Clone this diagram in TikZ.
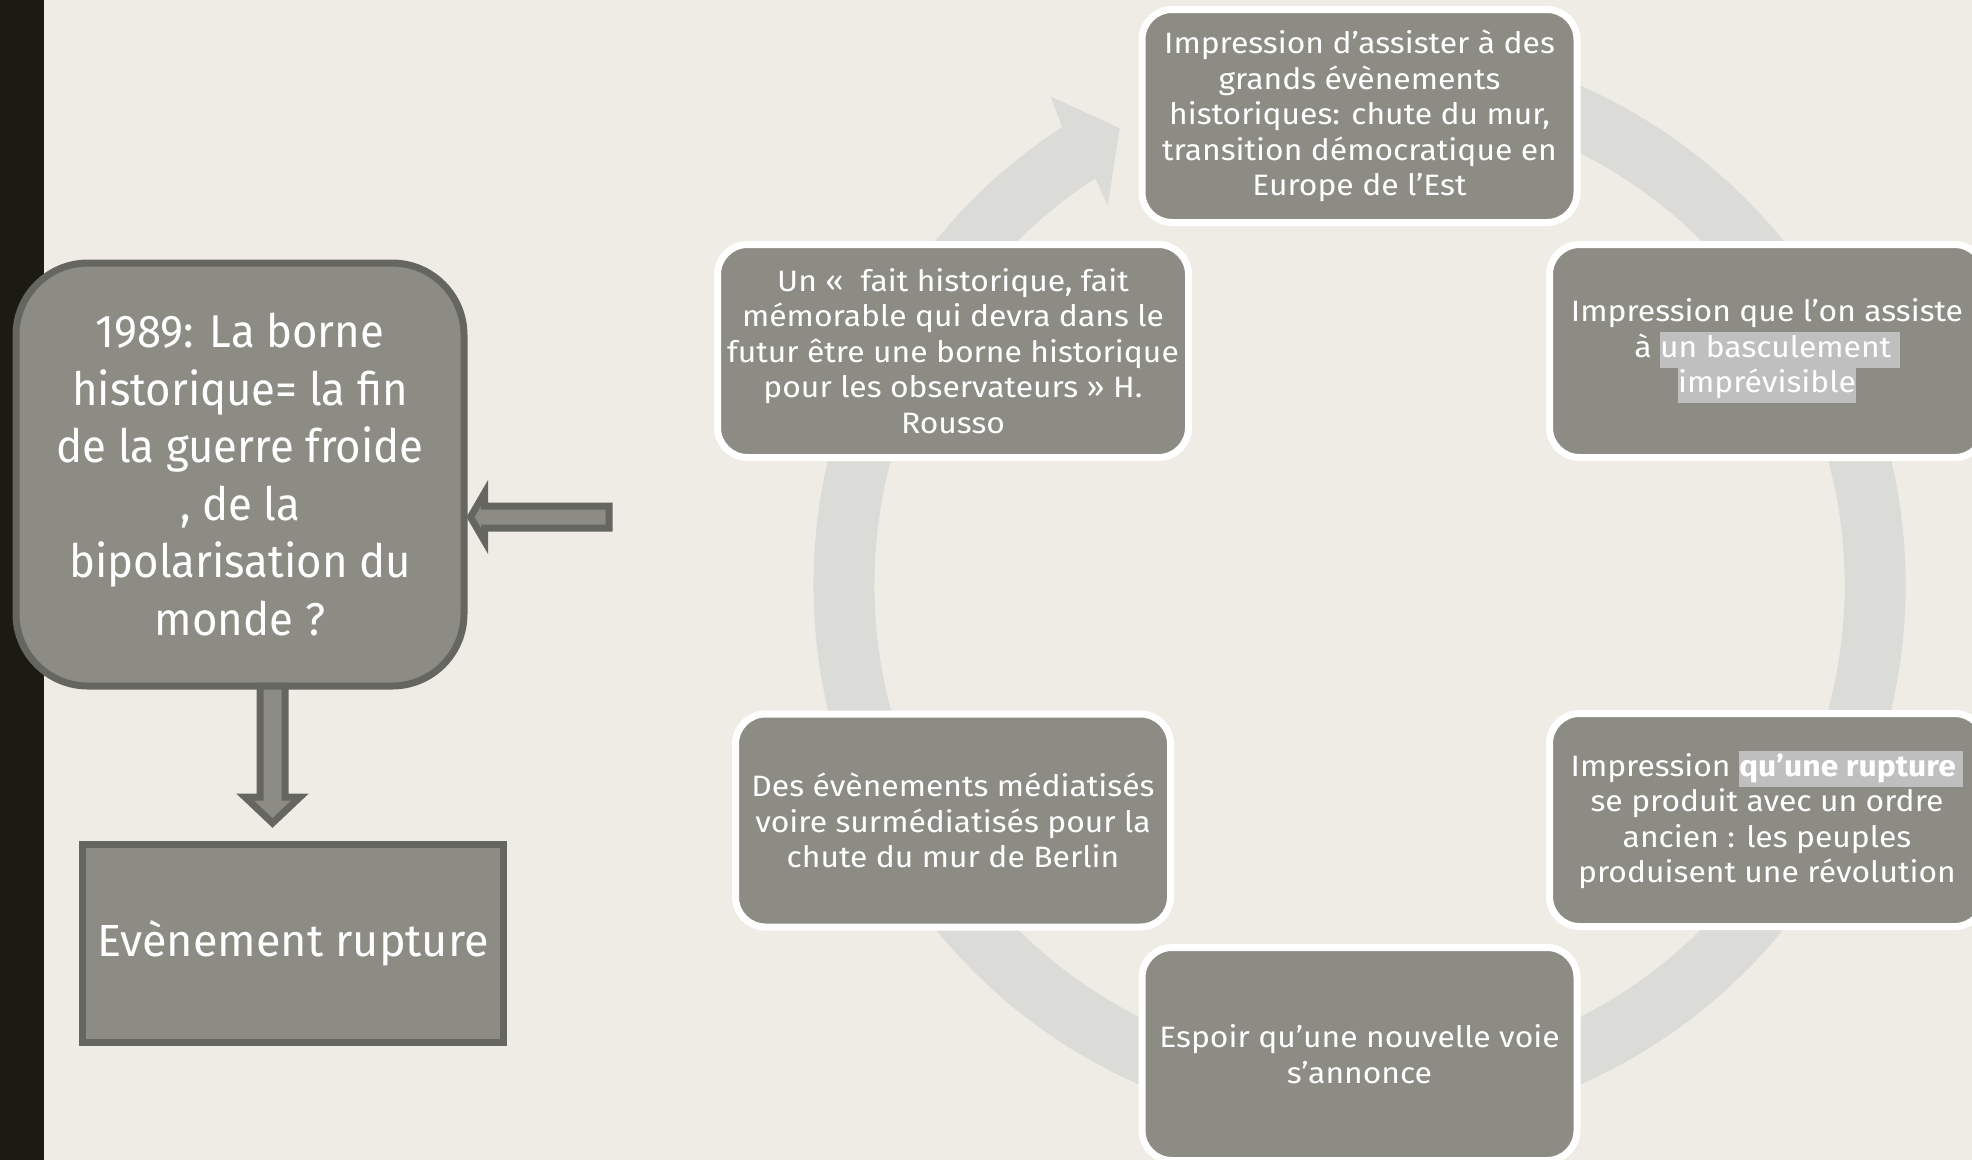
\documentclass[tikz,border=0pt]{standalone}
\usepackage{fontspec}
\setmainfont{Fira Sans}
\newfontfamily\cyclefont{Fira Sans}[FakeStretch=1.08]
\newfontfamily\bornefont{Fira Sans}[FakeStretch=0.95]
\usetikzlibrary{calc}

\definecolor{slidebg}{HTML}{EEECE4}
\definecolor{barblack}{HTML}{1B1B11}
\definecolor{boxgrey}{HTML}{8C8C85}
\definecolor{edgegrey}{HTML}{666660}
\definecolor{ringgrey}{HTML}{DBDBD8}
\definecolor{hlgrey}{HTML}{BFBFBF}

% grey marker behind words
\newcommand{\hlt}[1]{{\setlength{\fboxsep}{0pt}\colorbox{hlgrey}{\strut#1}}}

\tikzset{
  cyclebox/.style={draw=white, line width=7pt, fill=boxgrey, rounded corners=30pt,
    minimum width=435pt, minimum height=213pt, inner sep=0pt, align=center,
    text=white, font=\cyclefont\fontsize{29.5}{35.5}\selectfont},
  bigbox/.style={draw=edgegrey, line width=7pt, fill=boxgrey, inner sep=0pt,
    align=center, text=white},
  blockarrow/.style={draw=edgegrey, line width=7pt, fill=boxgrey, line join=miter}
}

\begin{document}
\begin{tikzpicture}[x=1pt, y=-1pt]
\useasboundingbox (0,0) rectangle (1972,1160);
\clip (0,0) rectangle (1972,1160);
\fill[slidebg] (0,0) rectangle (1972,1160);
\fill[barblack] (0,0) rectangle (44,1160);

% the ring behind the cycle
\coordinate (hub) at (1359.5,585);
\begin{scope}[shift={(hub)}, y=1pt]
  \draw[ringgrey, line width=61pt] (112:515.5pt) arc[start angle=112, end angle=-237, radius=515.5pt];
  \fill[ringgrey] (123:546pt) -- (122.3:578pt) -- (117.7:516pt) -- (123.6:455pt) -- (123:485pt) -- cycle;
\end{scope}

\node[cyclebox] (evt) at (1359.5,116) {Impression d’assister à des\\grands évènements\\historiques: chute du mur,\\transition démocratique en\\Europe de l’Est};
\node[cyclebox] (bascul) at (1767,351) {Impression que l’on assiste\\à \hlt{un basculement }\\\hlt{imprévisible}};
\node[cyclebox] (rupt) at (1767,820) {Impression \hlt{\textbf{qu’une rupture }}\\se produit avec un ordre\\ancien : les peuples\\produisent une révolution};
\node[cyclebox] (espoir) at (1359.5,1054) {Espoir qu’une nouvelle voie\\s’annonce};
\node[cyclebox] (media) at (953,820.5) {Des évènements médiatisés\\voire surmédiatisés pour la\\chute du mur de Berlin};
\node[cyclebox, minimum width=471pt] (rousso) at (953,351) {Un «\ \ fait historique, fait\\mémorable qui devra dans le\\futur être une borne historique\\pour les observateurs » H.\\Rousso};

% left part
\node[bigbox, rounded corners=72pt, minimum width=448pt, minimum height=423pt,
  font=\bornefont\fontsize{46}{57.5}\selectfont] (borne) at (240,474.5)
  {1989: La borne\\historique= la fin\\de la guerre froide\\, de la\\bipolarisation du\\monde ?};
\node[bigbox, minimum width=421pt, minimum height=198pt,
  font=\fontsize{45}{54}\selectfont] (rupture) at (293,943.5) {Evènement rupture};

\coordinate (feed) at (609,517);
\draw[blockarrow] (borne.east |- feed) ++(3,0) coordinate (tip) -- ++(14,-24) -- ++(0,13)
  -- ($(feed)+(0,-11)$) -- ($(feed)+(0,11)$) -- ($(tip)+(14,11)$) -- ++(0,13) -- cycle;

\coordinate (drop) at ($(rupture.north)+(-20.5,-18)$);
\draw[blockarrow] ($(borne.south -| drop)+(-12.5,-3.5)$) -- ($(drop)+(-12.5,-26)$)
  -- ($(drop)+(-27.5,-26)$) -- (drop) -- ($(drop)+(27.5,-26)$) -- ($(drop)+(12.5,-26)$)
  -- ($(borne.south -| drop)+(12.5,-3.5)$) -- cycle;
\end{tikzpicture}
\end{document}
